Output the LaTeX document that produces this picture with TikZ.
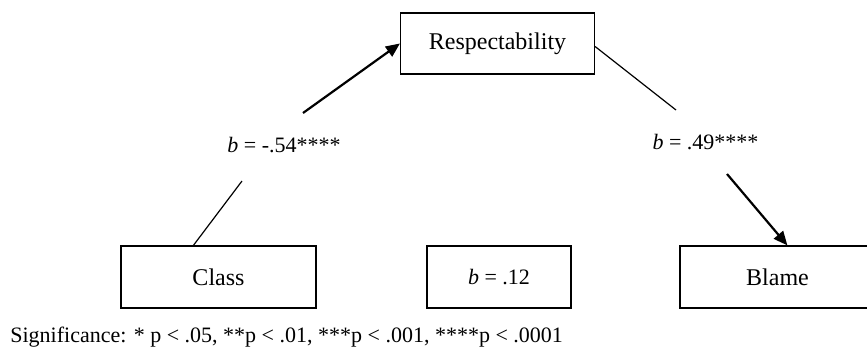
\documentclass[tikz,border=0pt]{standalone}
\usepackage{fontspec}
\setmainfont{Liberation Serif}
\usetikzlibrary{arrows.meta,positioning,calc}

\begin{document}
\begin{tikzpicture}[x=0.5pt, y=-0.5pt,
    varbox/.style={draw, line width=0.6pt, minimum width=97.5pt, minimum height=31pt, inner sep=0pt, font=\fontsize{12}{14}\selectfont},
    coefbox/.style={draw, line width=1.1pt, minimum width=72pt, minimum height=31pt, inner sep=0pt, font=\fontsize{11}{13}\selectfont},
    coef/.style={anchor=base, inner sep=0pt, font=\fontsize{11}{13}\selectfont},
    plain/.style={line width=0.6pt},
    effect/.style={line width=1.1pt, -{Triangle[length=7pt,width=6pt]}}]
    \useasboundingbox (0,0) rectangle (867,349);
    \clip (0,0) rectangle (867,349);

    % Variables
    \node[varbox, minimum width=97pt, minimum height=30.5pt] (resp) at (497.5,43.5) {Respectability};
    \node[varbox] (class) at (218.5,277) {Class};
    \node[varbox] (blame) at (777.5,277) {Blame};
    \node[coefbox] (direct) at (499,277) {\textit{b} = .12};

    % Path coefficients
    \node[coef] (coefA) at (284,152) {\textit{b} = -.54****};
    \node[coef] (coefB) at (705.5,149) {\textit{b} = .49****};

    % Line ends beside the coefficients
    \coordinate (aIn) at (242,181);
    \coordinate (aOut) at (303,113);
    \coordinate (bIn) at (676,110);
    \coordinate (bOut) at (727,174);

    % Class -> Respectability
    \draw[plain] ($(class.north west)+(73,0)$) -- (aIn);
    \draw[effect] (aOut) -- (resp.west);

    % Respectability -> Blame
    \draw[plain] ($(resp.east)+(0,3)$) -- (bIn);
    \draw[effect] (bOut) -- ($(blame.north west)+(108,0)$);

    % Note
    \node[anchor=base west, inner sep=0pt, font=\fontsize{11}{13}\selectfont] (sig) at (10,342)
        {Significance: * p < .05, **p < .01, ***p < .001, ****p < .0001};
\end{tikzpicture}
\end{document}
